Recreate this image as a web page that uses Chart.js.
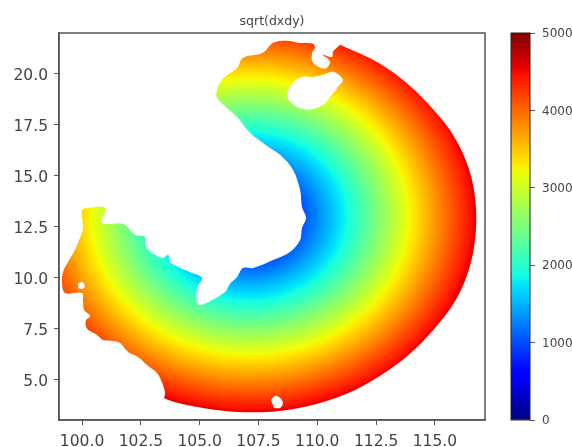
<!DOCTYPE html>
<html>
<head>
<meta charset="utf-8">
<style>
    body { margin: 0; background: #fff; }
    #wrap { position: relative; width: 572px; height: 447px; overflow: hidden; }
    canvas { position: absolute; top: 0; }
</style>
<script src="https://cdn.jsdelivr.net/npm/chart.js@4"></script>
</head>
<body>
<div id="wrap">
    <canvas id="map" width="572" height="447" style="left:0"></canvas>
    <canvas id="bar" width="82" height="447" style="left:490px"></canvas>
</div>
<script>
const xTicks = [100, 102.5, 105, 107.5, 110, 112.5, 115];
const yTicks = [5, 7.5, 10, 12.5, 15, 17.5, 20];
const barTicks = [0, 1000, 2000, 3000, 4000, 5000];

// edge of the covered area, outer arc first and then the coast
const outlineLon = [111.04, 112.62, 113.87, 114.94, 115.85, 116.45, 116.73, 116.72, 116.44, 115.85, 114.94, 113.87, 112.62, 111.22, 109.68, 108.06, 106.42, 104.79, 103.52,
    103.53, 103.44, 103.19, 102.76, 102.38, 101.96, 101.62, 101.28, 100.89, 100.64, 100.34, 100.17, 100.17, 100.34, 100.09, 100.04, 100.00, 99.28, 99.15, 99.19, 99.40, 99.70, 99.91, 100.04, 100.00, 100.26, 100.98, 100.85, 101.74, 102.25, 102.68, 102.72, 103.10, 103.44, 103.66, 103.74, 104.08, 104.68, 105.10, 104.89, 104.89, 105.10, 106.08, 106.29, 106.59, 106.84, 107.27, 108.12, 108.84, 109.27, 109.35, 109.52, 109.35, 109.27, 108.97, 108.42, 107.99, 107.14, 106.59, 105.87, 105.70, 105.95, 106.59, 106.84, 107.69, 108.12, 108.71, 109.18, 109.82, 109.90, 109.78, 109.82, 110.33, 110.54, 110.24, 110.63, 110.67, 110.97];
const outlineLat = [21.39, 20.53, 19.48, 18.24, 16.86, 15.32, 13.68, 12.02, 10.39, 8.84, 7.46, 6.22, 5.17, 4.31, 3.74, 3.45, 3.45, 3.70, 4.09,
    4.36, 4.75, 5.34, 5.74, 6.13, 6.37, 6.81, 6.91, 6.96, 7.21, 7.40, 7.60, 7.94, 8.14, 8.43, 8.82, 9.26, 9.26, 9.75, 10.29, 10.78, 11.37, 11.96, 12.45, 13.33, 13.43, 13.43, 12.70, 12.65, 12.11, 12.01, 11.52, 11.13, 10.98, 11.13, 10.78, 10.54, 10.24, 10.00, 9.51, 8.77, 8.68, 9.31, 9.71, 10.05, 10.49, 10.49, 10.88, 11.27, 11.86, 12.45, 12.94, 13.48, 14.31, 15.29, 16.03, 16.37, 17.11, 17.89, 18.63, 18.97, 19.71, 20.29, 20.78, 21.03, 21.52, 21.62, 21.52, 21.47, 21.27, 21.03, 20.54, 20.25, 20.59, 20.93, 20.83, 21.08, 21.42];

// holes in the area
const hainanLon = [108.71, 108.97, 109.35, 109.82, 110.24, 110.67, 111.09, 110.88, 110.54, 110.24, 109.69, 109.14, 108.76];
const hainanLat = [19.12, 19.56, 19.85, 19.85, 19.95, 20.10, 19.71, 19.36, 18.87, 18.48, 18.24, 18.38, 18.73];
const southIsleLon = [108.03, 108.20, 108.42, 108.54, 108.42, 108.16];
const southIsleLat = [4.02, 4.22, 4.12, 3.87, 3.63, 3.63];
const westSpeckLon = [99.82, 100.00, 100.12, 100.00, 99.85];
const westSpeckLat = [9.72, 9.80, 9.61, 9.46, 9.50];

// how the value grows with distance from the middle of the rings
const ringCentre = [107.14, 13.0];
const ringDegrees = [0, 2.4, 4.1, 5.5, 6.8, 7.95, 9.35, 9.8];
const ringValues = [0, 1100, 1850, 2500, 3250, 3750, 4450, 4660];

// jet
const jetStops = [0, 0.11, 0.125, 0.34, 0.35, 0.375, 0.64, 0.66, 0.89, 0.91, 1];
const jetColors = ['#00007f', '#0000ff', '#0000ff', '#00dbff', '#00e5f7', '#14ffe2', '#eeff08', '#ffec00', '#ff1300', '#e80000', '#7f0000'];
const barMax = 5000;

const textColor = '#444';
const axisColor = '#555';
const fontName = '"DejaVu Sans"';

function pairs(lons, lats) {
    return lons.map((lon, i) => ({x: lon, y: lats[i]}));
}

function degreesFor(value) {
    for (let i = 1; i < ringValues.length; i++) {
        if (value <= ringValues[i]) {
            const t = (value - ringValues[i - 1]) / (ringValues[i] - ringValues[i - 1]);
            return ringDegrees[i - 1] + t * (ringDegrees[i] - ringDegrees[i - 1]);
        }
    }
    return null;
}

let ringPattern = null;
function ringFill(context) {
    const chart = context.chart;
    if (!chart.chartArea) return '#fff';
    if (ringPattern) return ringPattern;

    const x = chart.scales.x;
    const y = chart.scales.y;
    const last = ringDegrees[ringDegrees.length - 1];
    const cx = x.getPixelForValue(ringCentre[0]);
    const cy = y.getPixelForValue(ringCentre[1]);
    const rx = x.getPixelForValue(ringCentre[0] + last) - cx;
    const ry = cy - y.getPixelForValue(ringCentre[1] + last);

    const off = document.createElement('canvas');
    off.width = chart.width;
    off.height = chart.height;
    const c = off.getContext('2d');
    c.translate(cx, cy);
    c.scale(rx, ry);
    const g = c.createRadialGradient(0, 0, 0, 0, 0, 1);
    jetStops.forEach((s, i) => {
        const d = degreesFor(s * barMax);
        if (d !== null) g.addColorStop(d / last, jetColors[i]);
    });
    g.addColorStop(1, '#f50a00');
    c.fillStyle = g;
    c.fillRect(-5, -5, 10, 10);

    ringPattern = chart.ctx.createPattern(off, 'no-repeat');
    return ringPattern;
}

function barFill(context) {
    const chart = context.chart;
    if (!chart.chartArea) return '#fff';
    const y = chart.scales.y;
    const g = chart.ctx.createLinearGradient(0, y.getPixelForValue(0), 0, y.getPixelForValue(barMax));
    jetStops.forEach((s, i) => g.addColorStop(s, jetColors[i]));
    return g;
}

function hole(lons, lats) {
    return {
        data: pairs(lons, lats),
        showLine: true,
        fill: 'shape',
        tension: 0.35,
        pointRadius: 0,
        borderWidth: 0,
        backgroundColor: '#fff'
    };
}

const frame = {
    id: 'frame',
    afterDraw(chart) {
        const a = chart.chartArea;
        const ctx = chart.ctx;
        ctx.save();
        ctx.strokeStyle = axisColor;
        ctx.lineWidth = 1.5;
        ctx.strokeRect(a.left, a.top, a.right - a.left, a.bottom - a.top);
        ctx.restore();
    }
};

new Chart(document.getElementById('map'), {
    type: 'scatter',
    data: {
        datasets: [
            hole(hainanLon, hainanLat),
            hole(southIsleLon, southIsleLat),
            hole(westSpeckLon, westSpeckLat),
            {
                data: pairs(outlineLon, outlineLat),
                showLine: true,
                fill: 'shape',
                tension: 0.35,
                pointRadius: 0,
                borderWidth: 0,
                backgroundColor: ringFill
            }
        ]
    },
    plugins: [frame],
    options: {
        responsive: false,
        animation: false,
        events: [],
        layout: {padding: {right: 87}},
        plugins: {
            legend: {display: false},
            tooltip: {enabled: false},
            title: {
                display: true,
                text: 'sqrt(dxdy)',
                fullSize: false,
                color: textColor,
                font: {family: fontName, size: 12.5, weight: 'normal'},
                padding: {top: 14, bottom: 4}
            }
        },
        scales: {
            x: {
                type: 'linear',
                min: 99.02,
                max: 117.13,
                afterBuildTicks: s => { s.ticks = xTicks.map(v => ({value: v})); },
                afterFit: s => { s.height = 27; },
                grid: {drawOnChartArea: false, color: axisColor, tickLength: 5},
                border: {color: axisColor, width: 1.5},
                ticks: {
                    color: textColor,
                    font: {family: fontName, size: 15.5},
                    padding: 8,
                    maxRotation: 0,
                    autoSkip: false,
                    callback: v => v.toFixed(1)
                }
            },
            y: {
                type: 'linear',
                min: 3.04,
                max: 22.0,
                afterBuildTicks: s => { s.ticks = yTicks.map(v => ({value: v})); },
                afterFit: s => { s.width = 59; },
                grid: {drawOnChartArea: false, color: axisColor, tickLength: 5},
                border: {color: axisColor, width: 1.5},
                ticks: {
                    color: textColor,
                    font: {family: fontName, size: 15.5},
                    padding: 6,
                    labelOffset: 2,
                    autoSkip: false,
                    callback: v => v.toFixed(1)
                }
            }
        }
    }
});

new Chart(document.getElementById('bar'), {
    type: 'bar',
    data: {
        labels: [''],
        datasets: [{
            data: [barMax],
            backgroundColor: barFill,
            barPercentage: 1,
            categoryPercentage: 1
        }]
    },
    plugins: [{
        id: 'barEdge',
        afterDraw(chart) {
            const a = chart.chartArea;
            chart.ctx.save();
            chart.ctx.strokeStyle = '#222';
            chart.ctx.lineWidth = 1;
            chart.ctx.strokeRect(a.left, a.top, a.right - a.left, a.bottom - a.top);
            chart.ctx.restore();
        }
    }],
    options: {
        responsive: false,
        animation: false,
        events: [],
        layout: {padding: {left: 21, top: 33, bottom: 27, right: 0}},
        plugins: {legend: {display: false}, tooltip: {enabled: false}},
        scales: {
            x: {display: false},
            y: {
                position: 'right',
                min: 0,
                max: barMax,
                afterBuildTicks: s => { s.ticks = barTicks.map(v => ({value: v})); },
                afterFit: s => { s.width = 42; },
                grid: {drawOnChartArea: false, color: axisColor, tickLength: 5},
                border: {display: false},
                ticks: {
                    color: textColor,
                    font: {family: fontName, size: 12},
                    padding: 7,
                    labelOffset: 1,
                    callback: v => String(v)
                }
            }
        }
    }
});
</script>
</body>
</html>
